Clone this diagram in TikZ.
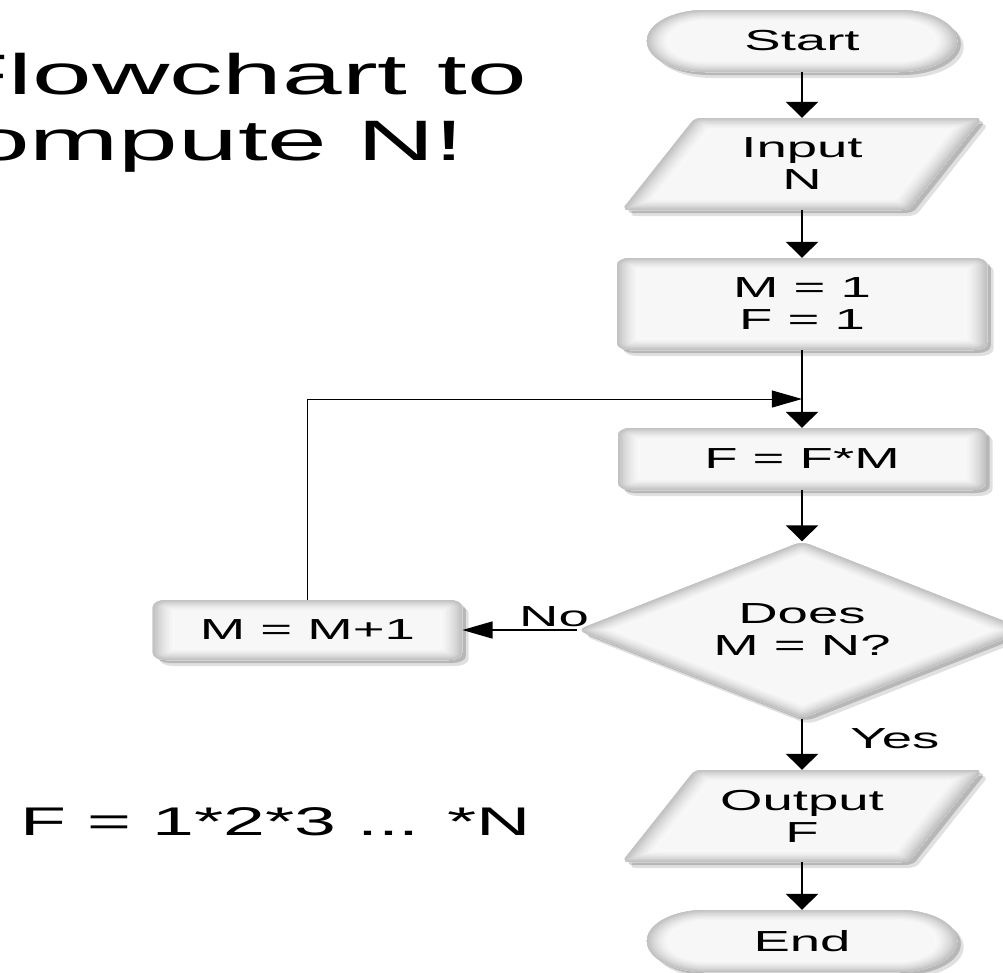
\documentclass[tikz,border=0pt]{standalone}
\usepackage{fontspec}
\setmainfont{Liberation Sans}
\usetikzlibrary{shapes.geometric,shadows,arrows.meta}
\tikzset{
  nodefont/.style={font=\fontsize{29}{32}\selectfont},
  softshadow/.style={
    drop shadow={shadow xshift=2pt, shadow yshift=-3pt, opacity=0.18, fill=black},
    drop shadow={shadow xshift=3.5pt, shadow yshift=-6pt, opacity=0.12, fill=black}},
  glow/.style={path picture={\foreach \i in {0,...,13}{%
      \pgfmathsetmacro\lw{(14-\i)*1.7}\pgfmathtruncatemacro\cc{5+43*(\i/13)^1.4}%
      \draw[line width=\lw pt, gray!\cc] #1;}}},
  base/.style={nodefont, align=center, inner sep=0pt, fill=gray!6, softshadow},
  boxn/.style={base, rectangle, rounded corners=7pt,
    glow={[rounded corners=7pt] (path picture bounding box.south west) rectangle (path picture bounding box.north east)}},
  term/.style={base, rectangle, rounded corners=31pt, minimum width=165pt, minimum height=62pt,
    glow={[rounded corners=31pt] (path picture bounding box.south west) rectangle (path picture bounding box.north east)}},
  ioshape/.style={fill=gray!6, softshadow, rounded corners=4pt, glow={#1}},
  iotext/.style={nodefont, align=center, inner sep=0pt, rectangle, minimum width=152pt, minimum height=92pt},
  decn/.style={base, diamond, rounded corners=5pt, minimum width=239pt, minimum height=177pt,
    glow={(path picture bounding box.north) -- (path picture bounding box.east) -- (path picture bounding box.south) -- (path picture bounding box.west) -- cycle}},
  conn/.style={line width=1.5pt, -{Triangle[width=17pt,length=16pt]}},
  loopconn/.style={line width=1pt, -{Triangle[width=17pt,length=16pt]}},
  lbl/.style={nodefont, inner sep=0pt},
}
% parallelogram outline centred at (802,#1), in the picture's pixel units
\newcommand\parapath[1]{(622,{#1+46}) -- (695,{#1-46}) -- (982,{#1-46}) -- (909,{#1+46}) -- cycle}
\begin{document}
\begin{tikzpicture}[x=1pt,y=-1pt]
\useasboundingbox (0,0) rectangle (1003,972);
\fill[white] (0,0) rectangle (1003,972);
\clip (0,0) rectangle (1003,972);
\begin{scope}[transform canvas={xscale=1.88}, x=0.531915pt, y=-1pt]
  % title and formula
  \node[font=\fontsize{57}{66}\selectfont, align=center, inner sep=0pt, anchor=north] (title)
    at (235,53) {Flowchart to\\Compute N!\hspace*{60pt}};
  \node[font=\fontsize{40}{46}\selectfont, inner sep=0pt, anchor=base] (formula)
    at (276,835) {F = 1*2*3 ... *N};
  % flowchart nodes
  \node[term] (start) at (802,41) {Start};
  \path[ioshape={\parapath{164}}] \parapath{164};
  \node[iotext] (input) at (802,164) {Input\\N};
  \node[boxn, minimum width=196.8pt, minimum height=92pt] (init) at (802,304) {M = 1\\F = 1};
  \node[boxn, minimum width=195.7pt, minimum height=62pt] (mult) at (802,459) {F = F*M};
  \node[decn] (dec) at (802,630) {Does\\M = N?};
  \node[boxn, minimum width=164.4pt, minimum height=60pt] (inc) at (307.5,630) {M = M+1};
  \path[ioshape={\parapath{816}}] \parapath{816};
  \node[iotext] (output) at (802,816) {Output\\F};
  \node[term] (endn) at (802,941) {End};
  \coordinate (join) at (802,399);
  % connectors
  \draw[conn] (start) -- (input);
  \draw[conn] (input) -- (init);
  \draw[conn] (init) -- (mult);
  \draw[conn] (mult) -- (dec);
  \draw[conn] (dec) -- node[lbl, pos=0.4, anchor=west, xshift=25pt] {Yes} (output);
  \draw[conn] (output) -- (endn);
  \draw[conn] (dec.west) -- node[lbl, pos=0.2, anchor=south, yshift=2pt] {No} (inc.east);
  \draw[loopconn] (inc.north) |- (join);
\end{scope}
\end{tikzpicture}
\end{document}
